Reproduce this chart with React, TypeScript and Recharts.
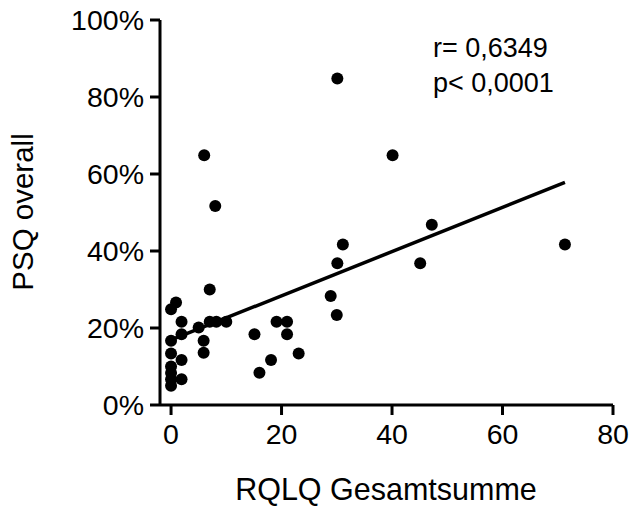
import {
  Customized,
  Label,
  Scatter,
  ScatterChart,
  XAxis,
  YAxis,
} from 'recharts';

// RQLQ total score vs PSQ overall (%).
const RQLQ = [
  0, 0.9, 7, 1.9, 5, 7, 8.2, 10, 1.9, 0, 5.9, 0, 5.9, 1.9, 0, 0, 0, 0, 1.9,
  15.1, 19.1, 21, 21, 23.1, 18.1, 16, 6, 8, 31.1, 30.1, 30.1, 40.1, 47.2, 45.1,
  71.3, 30, 28.9,
];
const PSQ = [
  24.9, 26.6, 30, 21.6, 20.1, 21.6, 21.6, 21.6, 18.4, 16.7, 16.7, 13.4, 13.6,
  11.7, 10, 8.3, 6.7, 5, 6.7, 18.4, 21.6, 21.6, 18.4, 13.4, 11.7, 8.4, 64.9,
  51.7, 41.7, 36.8, 84.8, 64.9, 46.8, 36.8, 41.7, 23.4, 28.3,
];

// linear fit drawn in the figure (endpoints)
const FIT_X = [0, 71.3];
const FIT_Y = [16.9, 57.8];

const X_TICKS = [0, 20, 40, 60, 80];
const Y_TICKS = [0, 20, 40, 60, 80, 100];

const STATS = ['r= 0,6349', 'p< 0,0001'];

const FONT = '"Liberation Sans", Arial, Helvetica, sans-serif';

const points = RQLQ.map((x, i) => ({ x, y: PSQ[i] }));
const fit = FIT_X.map((x, i) => ({ x, y: FIT_Y[i] }));

const Dot = (props: any) => (
  <circle cx={props.cx} cy={props.cy} r={6} fill="#000" />
);

const NoDot = () => null;

const axisLine = { stroke: '#000', strokeWidth: 3 };
const tickStyle = { fill: '#000', fontSize: 28.5, fontFamily: FONT };

export default function App() {
  return (
    <div style={{ width: 630, height: 506, background: '#fff' }}>
      <style>{'body{margin:0}'}</style>
      <ScatterChart
        width={630}
        height={506}
        margin={{ top: 20, right: 17, bottom: 0, left: 0 }}
      >
        <XAxis
          type="number"
          dataKey="x"
          domain={[-2, 80]}
          ticks={X_TICKS}
          allowDataOverflow
          height={101}
          axisLine={axisLine}
          tickLine={axisLine}
          tickSize={10}
          tickMargin={9}
          tick={tickStyle}
        >
          <Label
            content={() => (
              <text
                x={386}
                y={500}
                textAnchor="middle"
                fontSize={30.5}
                fontFamily={FONT}
                fill="#000"
              >
                RQLQ Gesamtsumme
              </text>
            )}
          />
        </XAxis>
        <YAxis
          type="number"
          dataKey="y"
          domain={[0, 100]}
          ticks={Y_TICKS}
          allowDataOverflow
          width={160}
          axisLine={axisLine}
          tickLine={axisLine}
          tickSize={10}
          tickMargin={6}
          tick={tickStyle}
          tickFormatter={(v) => `${v}%`}
        >
          <Label
            content={() => (
              <text
                x={33}
                y={212}
                transform="rotate(-90, 33, 212)"
                textAnchor="middle"
                fontSize={29.5}
                fontFamily={FONT}
                fill="#000"
              >
                PSQ overall
              </text>
            )}
          />
        </YAxis>
        <Scatter
          data={fit}
          line={{ stroke: '#000', strokeWidth: 3.5 }}
          shape={NoDot}
          isAnimationActive={false}
        />
        <Scatter data={points} shape={Dot} isAnimationActive={false} />
        <Customized
          component={() => (
            <g fontSize={27} fontFamily={FONT} fill="#000">
              <text x={433} y={57}>
                {STATS[0]}
              </text>
              <text x={433} y={92}>
                {STATS[1]}
              </text>
            </g>
          )}
        />
      </ScatterChart>
    </div>
  );
}
